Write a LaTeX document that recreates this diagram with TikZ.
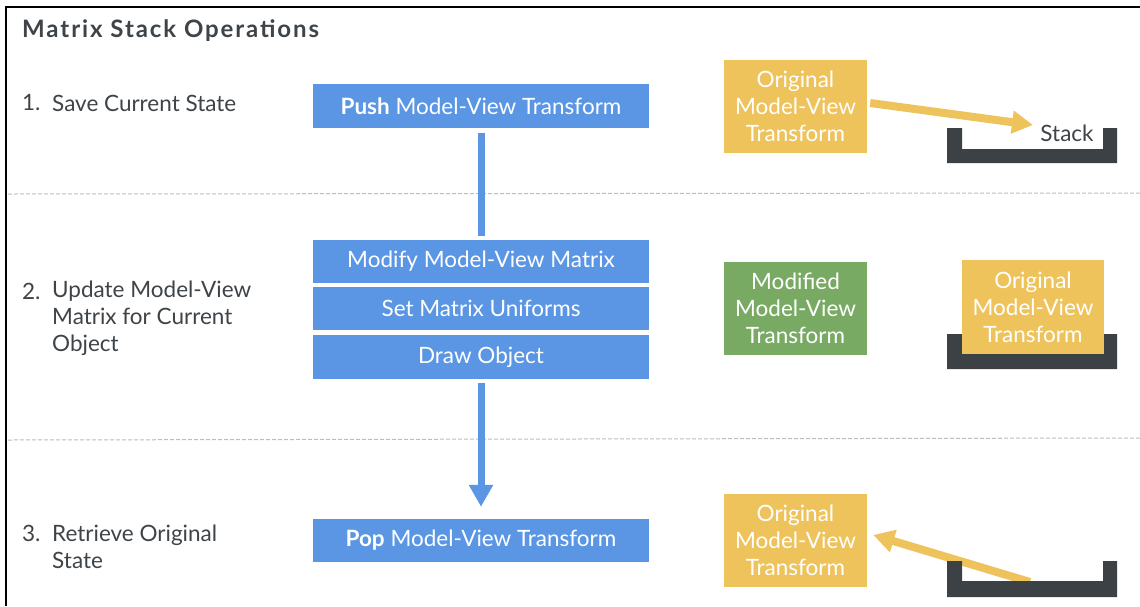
\documentclass[tikz,border=0pt]{standalone}
\usepackage{fontspec}
\setmainfont{Lato}
\usetikzlibrary{arrows.meta}
\definecolor{bblue}{HTML}{5A96E3}
\definecolor{byellow}{HTML}{EEC35B}
\definecolor{bgreen}{HTML}{79AA64}
\definecolor{bdark}{HTML}{3C4146}
\definecolor{tdark}{HTML}{3F4449}
\definecolor{dgray}{HTML}{BDBDBD}
\newcommand{\bodyfont}{\fontsize{22.5}{27}\selectfont}
\tikzset{
  lbl/.style={font=\bodyfont, text=tdark, inner sep=0pt, anchor=west, align=left},
  bluebox/.style={fill=bblue, text=white, minimum width=336pt, inner sep=0pt, font=\bodyfont},
  cbox/.style={text=white, minimum width=143pt, minimum height=93pt, inner sep=0pt, align=center, font=\bodyfont},
  bconn/.style={draw=bblue, line width=7pt},
  yconn/.style={draw=byellow, line width=8pt},
  sep/.style={draw=dgray, line width=1pt, dash pattern=on 4pt off 2pt},
}
\newcommand{\stackshape}[3]{% top, inner bottom, bottom
  \fill[bdark] (947,#1) -- (947,#3) -- (1117,#3) -- (1117,#1) -- (1103,#1) -- (1103,#2) -- (962,#2) -- (962,#1) -- cycle;}
\begin{document}
\begin{tikzpicture}[x=1pt,y=-1pt]
\useasboundingbox (0,0) rectangle (1140,606);
\fill[white] (0,0) rectangle (1140,606);
% frame
\draw[black, line width=2.5pt] (5,7) -- (1140,7);
\draw[black, line width=2.5pt] (6,7) -- (6,606);
% separators
\draw[sep] (8,194) -- (1140,193);
\draw[sep] (8,440) -- (1140,438);
% title
\node[lbl, font=\fontsize{24}{27}\selectfont\bfseries\addfontfeature{LetterSpace=8}] (title) at (22,31) {Matrix Stack Operations};
% step labels
\node[lbl] (n1) at (22,103) {1.};
\node[lbl] (t1) at (52,103) {Save Current State};
\node[lbl] (n2) at (22,291) {2.};
\node[lbl] (t2) at (52,318) {Update Model-View\\Matrix for Current\\Object};
\node[lbl] (n3) at (22,533) {3.};
\node[lbl] (t3) at (52,546.5) {Retrieve Original\\State};
% blue boxes
\node[bluebox, minimum height=44pt] (push) at (481,106) {\textbf{Push} Model-View Transform};
\node[bluebox, minimum height=43pt] (modify) at (481,261) {Modify Model-View Matrix};
\node[bluebox, minimum height=43pt] (setm) at (481,308.5) {Set Matrix Uniforms};
\node[bluebox, minimum height=44pt] (drawo) at (481,357) {Draw Object};
\node[bluebox, minimum height=43pt] (pop) at (481,540.5) {\textbf{Pop} Model-View Transform};
\draw[bconn, shorten <=5pt, shorten >=3.5pt] (push.south) -- (modify.north);
\draw[bconn, shorten <=4pt, shorten >=12pt, -{Triangle[length=22pt,width=23pt]}] (drawo.south) -- (pop.north);
% right column, step 1
\node[cbox, fill=byellow] (orig1) at (795.5,106) {Original\\Model-View\\Transform};
\stackshape{128}{149}{163}
\node[font=\bodyfont, text=tdark, inner sep=0pt] (stacklbl) at (1067,133) {Stack};
\coordinate (stackin) at (1033,125);
\draw[yconn, -{Triangle[length=21pt,width=22pt]}] ([shift={(3,-3)}]orig1.east) -- (stackin);
% step 2
\node[cbox, fill=bgreen] (modif) at (795.5,308.5) {Modified\\Model-View\\Transform};
\stackshape{334}{354}{369}
\node[cbox, fill=byellow, minimum width=142pt, minimum height=94pt] (orig2) at (1033,307) {Original\\Model-View\\Transform};
% step 3
\node[cbox, fill=byellow] (orig3) at (795.5,540) {Original\\Model-View\\Transform};
\coordinate (stackout) at (1030,582);
\draw[yconn, -{Triangle[length=21pt,width=22pt]}] (stackout) -- ([shift={(6,-5)}]orig3.east);
\stackshape{561}{581}{597}
\end{tikzpicture}
\end{document}
